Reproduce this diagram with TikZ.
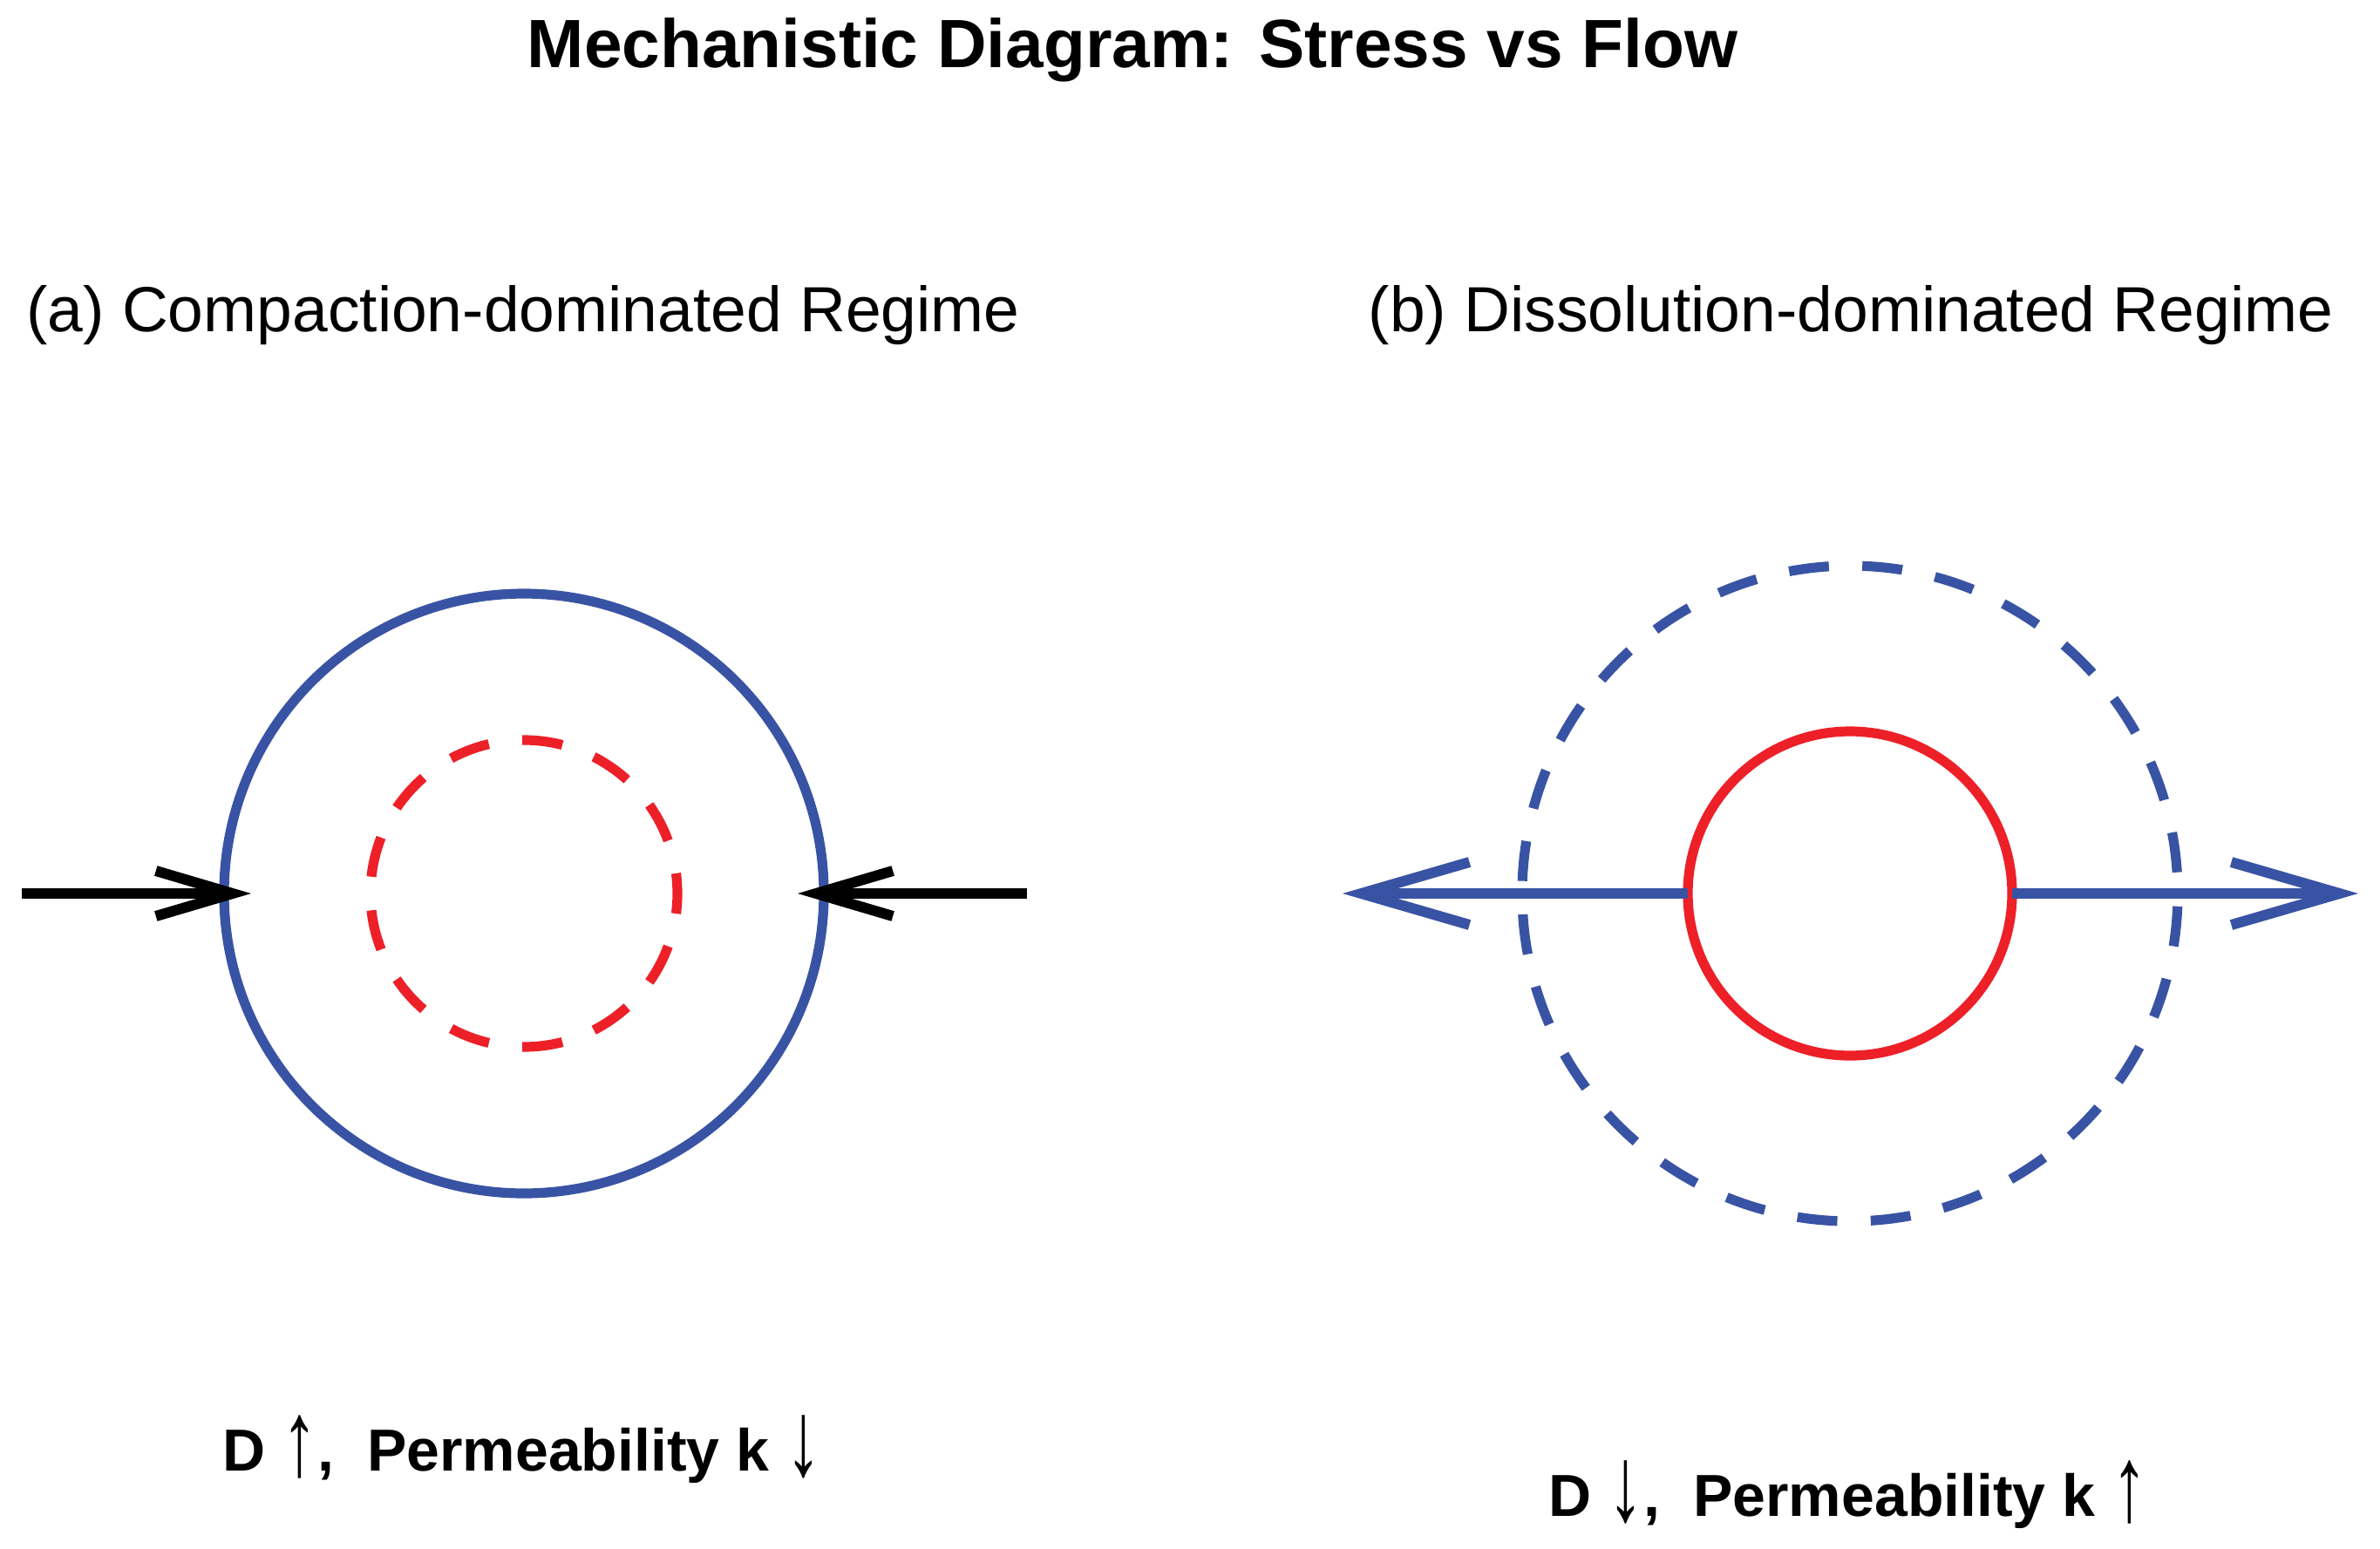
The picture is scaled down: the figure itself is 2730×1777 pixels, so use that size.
\documentclass[tikz,border=0pt]{standalone}
\usepackage{fontspec}
\usepackage{graphicx}
\setmainfont{Liberation Sans}
\usetikzlibrary{arrows.meta}
\definecolor{cblue}{RGB}{57,83,164}
\definecolor{cred}{RGB}{237,32,40}
\newcommand{\myup}{\raisebox{-0.08em}{\scalebox{1.2}[1.8]{↑}}}
\newcommand{\mydown}{\raisebox{-0.08em}{\scalebox{1.2}[1.8]{↓}}}
\begin{document}
\begin{tikzpicture}[x=0.25pt,y=-0.25pt,
  ring/.style={circle,inner sep=0pt,outer sep=0pt,line width=2.8pt},
  ttl/.style={anchor=base,inner sep=0pt,font=\fontsize{19.6}{22}\selectfont\bfseries},
  sub/.style={anchor=base,inner sep=0pt,font=\fontsize{18.3}{22}\selectfont},
  res/.style={anchor=base,inner sep=0pt,font=\fontsize{17}{20}\selectfont\bfseries},
  push/.style={line width=3pt,black,-{Straight Barb[length=22pt,width=13pt,line width=3pt]}},
  pull/.style={line width=3pt,cblue,-{Straight Barb[length=31pt,width=18pt,line width=3pt]}}]
\useasboundingbox[fill=white] (0,0) rectangle (2730,1777);
% texts
\node[ttl] (title) at (1299,78) {Mechanistic Diagram: Stress vs Flow};
\node[sub] (labA) at (600,380) {(a) Compaction-dominated Regime};
\node[sub] (labB) at (2123,380) {(b) Dissolution-dominated Regime};
\node[res] (resA) at (599,1687) {D \myup,\ \ Permeability k \mydown};
\node[res] (resB) at (2120,1739) {D \mydown,\ \ Permeability k \myup};
% panel (a)
\node[ring,draw=cblue,minimum size=172pt] (outerA) at (601,1025) {};
\node[ring,draw=cred,minimum size=88pt,dash pattern=on 11.6pt off 9.67pt,dash phase=5.8pt] (innerA) at (601,1025) {};
\coordinate (pushLs) at (25,1025);
\coordinate (pushLt) at (288,1025);
\coordinate (pushRs) at (1178,1025);
\coordinate (pushRt) at (915,1025);
\draw[push] (pushLs) -- (pushLt);
\draw[push] (pushRs) -- (pushRt);
% panel (b)
\node[ring,draw=cblue,minimum size=188pt,dash pattern=on 11.5pt off 9.59pt,dash phase=15pt] (outerB) at (2122,1025) {};
\node[ring,draw=cred,minimum size=93pt] (innerB) at (2122,1025) {};
\coordinate (pullLt) at (1540,1025);
\coordinate (pullRt) at (2705,1025);
\draw[pull] (innerB.west) -- (pullLt);
\draw[pull] (innerB.east) -- (pullRt);
\end{tikzpicture}
\end{document}
